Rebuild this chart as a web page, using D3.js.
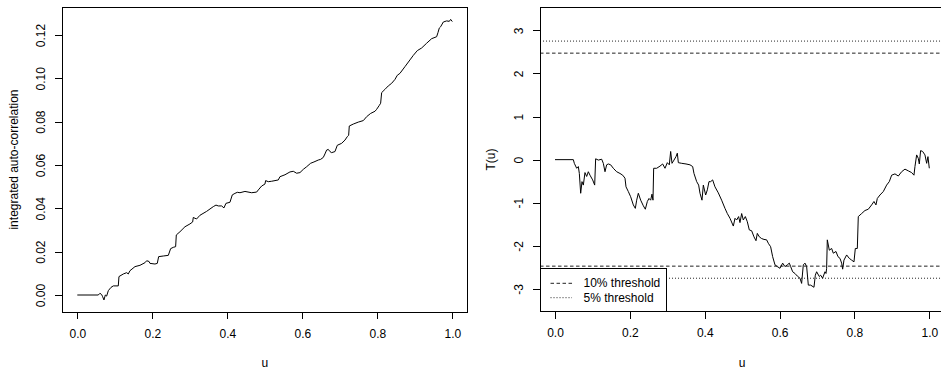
<!DOCTYPE html>
<html><head><meta charset="utf-8">
<script src="https://cdn.jsdelivr.net/npm/d3@7"></script>
<style>
body{margin:0;background:#fff;}
text{font-family:"Liberation Sans",Arial,Helvetica,sans-serif;font-size:12px;fill:#000;}
</style></head>
<body><svg id="c" width="941" height="373"></svg>
<script>
// ---- data ----
const xTicks = [0, 0.2, 0.4, 0.6, 0.8, 1.0];
const leftYTicks = [0, 0.02, 0.04, 0.06, 0.08, 0.10, 0.12];
const rightYTicks = [-3, -2, -1, 0, 1, 2, 3];
const thresholds10 = [2.47, -2.47];
const thresholds5 = [2.75, -2.75];
const legendLabels = ["10% threshold", "5% threshold"];

const acU = [0,0.056,0.0604,0.0649,0.0676,0.0711,0.0747,0.0782,0.0827,0.0898,0.096,0.1093,0.1111,0.1227,0.1316,0.136,0.1404,0.1538,0.1671,0.1804,0.1849,0.1911,0.1938,0.2071,0.2133,0.2169,0.2293,0.2427,0.2489,0.256,0.2622,0.264,0.2738,0.2871,0.3004,0.3076,0.3093,0.3138,0.3182,0.3271,0.3449,0.3627,0.3698,0.376,0.3849,0.3911,0.3964,0.4071,0.4133,0.4204,0.4267,0.4338,0.4471,0.4649,0.4782,0.4827,0.4916,0.5004,0.5022,0.5093,0.5182,0.536,0.5404,0.5538,0.5671,0.576,0.5849,0.5938,0.6027,0.6116,0.6222,0.6311,0.6427,0.6489,0.656,0.6604,0.6649,0.6693,0.6738,0.6782,0.6871,0.6933,0.7049,0.7138,0.72,0.7236,0.7253,0.736,0.7493,0.7627,0.7716,0.7822,0.7938,0.7982,0.8053,0.8089,0.8116,0.8204,0.8293,0.8382,0.8471,0.8533,0.8604,0.8738,0.8871,0.896,0.9067,0.9182,0.9316,0.9449,0.9582,0.9618,0.9653,0.9689,0.976,0.9849,0.992,0.9956,1.0];
const acV = [0,0,0.0008,0.0002,-0.0008,-0.0023,0,-0.0005,0.002,0.0035,0.0042,0.0042,0.0085,0.0097,0.0103,0.0097,0.0112,0.0131,0.0137,0.0149,0.0158,0.0155,0.0146,0.0143,0.0146,0.0177,0.018,0.0183,0.0214,0.022,0.0223,0.0277,0.0292,0.0315,0.0328,0.0337,0.0358,0.0354,0.0351,0.0368,0.0386,0.0408,0.0415,0.0411,0.0411,0.0402,0.0423,0.0428,0.0462,0.0469,0.0474,0.0472,0.0478,0.0472,0.0475,0.0485,0.0503,0.0512,0.0528,0.0523,0.0525,0.0531,0.0546,0.0555,0.0568,0.0571,0.0562,0.0565,0.058,0.0592,0.0608,0.0614,0.0623,0.0626,0.0635,0.0651,0.0669,0.0672,0.0662,0.0657,0.0662,0.0691,0.07,0.0715,0.0731,0.0737,0.078,0.0789,0.0798,0.0805,0.0823,0.0838,0.0848,0.0857,0.0875,0.0885,0.0934,0.0949,0.0965,0.0977,0.0995,0.1014,0.1023,0.1054,0.1085,0.1106,0.1128,0.114,0.1162,0.1183,0.1192,0.1211,0.1232,0.1238,0.126,0.1265,0.1263,0.1272,0.1262];

const tU = [0,0.049,0.0516,0.0579,0.0623,0.065,0.0686,0.0721,0.0757,0.0801,0.0846,0.089,0.0935,0.1006,0.106,0.1086,0.1158,0.1247,0.1291,0.1336,0.138,0.1425,0.1487,0.1558,0.1647,0.1736,0.1808,0.187,0.1897,0.1959,0.2021,0.2093,0.2146,0.2182,0.2226,0.2289,0.236,0.2413,0.2467,0.2511,0.2556,0.2591,0.2618,0.2636,0.2716,0.2805,0.2876,0.2939,0.3001,0.3054,0.309,0.3126,0.3179,0.3232,0.3268,0.3295,0.3384,0.35,0.3606,0.3678,0.3713,0.3785,0.3838,0.3874,0.3927,0.3963,0.4025,0.407,0.4114,0.4159,0.4212,0.4274,0.4363,0.4452,0.4541,0.4604,0.4675,0.4764,0.4809,0.4853,0.4906,0.4942,0.4987,0.5031,0.5085,0.5138,0.5191,0.5254,0.5316,0.537,0.5405,0.5459,0.5521,0.5583,0.5654,0.5699,0.5761,0.5815,0.5877,0.594,0.6011,0.6082,0.6144,0.6207,0.626,0.6296,0.6349,0.6411,0.6474,0.6545,0.6589,0.6634,0.6679,0.6723,0.6768,0.683,0.6919,0.6955,0.699,0.7061,0.7097,0.715,0.7213,0.724,0.7257,0.7275,0.7329,0.7391,0.7435,0.7507,0.756,0.7614,0.7658,0.7685,0.772,0.7792,0.7863,0.7925,0.7988,0.8023,0.8077,0.8103,0.8192,0.8281,0.837,0.8459,0.8522,0.8575,0.8611,0.8682,0.8771,0.886,0.8931,0.8994,0.9083,0.9172,0.9261,0.935,0.9439,0.9528,0.959,0.9617,0.9662,0.9706,0.9733,0.9768,0.9822,0.9884,0.9929,0.9964,1.0];
const tV = [0,0,-0.085,-0.2,-0.16,-0.32,-0.78,-0.51,-0.59,-0.3,-0.39,-0.28,-0.36,-0.47,-0.59,0.02,-0.01,0.01,-0.085,-0.28,-0.12,-0.1,-0.12,-0.2,-0.28,-0.32,-0.36,-0.43,-0.63,-0.74,-0.86,-1.05,-1.13,-0.94,-0.78,-0.94,-1.07,-1.15,-0.97,-0.9,-0.94,-0.8,-0.94,-0.2,-0.2,-0.15,-0.1,-0.2,-0.07,-0.12,0.19,-0.085,-0.01,0.07,0.15,-0.07,-0.085,-0.1,-0.12,-0.16,-0.32,-0.51,-0.59,-0.78,-0.94,-0.59,-0.82,-0.7,-0.51,-0.51,-0.47,-0.63,-0.77,-0.94,-1.13,-1.25,-1.36,-1.54,-1.36,-1.4,-1.32,-1.46,-1.25,-1.4,-1.32,-1.44,-1.63,-1.65,-1.79,-1.88,-1.71,-1.79,-1.83,-1.85,-1.86,-1.94,-2.02,-2.25,-2.44,-2.48,-2.52,-2.4,-2.48,-2.44,-2.4,-2.48,-2.6,-2.64,-2.7,-2.75,-2.87,-2.44,-2.4,-2.48,-2.91,-2.91,-2.96,-2.68,-2.6,-2.71,-2.68,-2.75,-2.6,-2.64,-2.52,-1.86,-2.1,-2.06,-2.17,-2.13,-2.25,-2.29,-2.4,-2.54,-2.33,-2.21,-2.29,-2.33,-2.37,-2.06,-2.06,-1.32,-1.25,-1.18,-1.15,-1.05,-0.97,-1.05,-0.9,-0.82,-0.74,-0.59,-0.51,-0.36,-0.33,-0.38,-0.28,-0.22,-0.26,-0.3,-0.36,-0.16,0.11,0.03,-0.1,0.21,0.19,0.11,-0.085,0.07,-0.2];

// ---- drawing ----
const svg = d3.select("#c");
svg.append("rect").attr("width",941).attr("height",373).attr("fill","#fff");

function panel(opt){
  const g = svg.append("g");
  const x = d3.scaleLinear().domain([0,1]).range(opt.xr);
  const y = d3.scaleLinear().domain(opt.yd).range(opt.yr);
  const bx0 = x(-0.04), bx1 = x(1.04);
  const by0 = opt.boxTop, by1 = opt.boxBottom;
  const clipId = "clip"+opt.id;
  svg.append("clipPath").attr("id",clipId).append("rect")
    .attr("x",bx0).attr("y",by0).attr("width",bx1-bx0).attr("height",by1-by0);

  // axes
  const ax = g.append("g").attr("transform",`translate(0,${by1})`)
    .call(d3.axisBottom(x).tickValues(xTicks).tickSize(7).tickPadding(10).tickFormat(d3.format(".1f")));
  ax.select(".domain").remove();
  ax.selectAll("text").style("font-size","12px");
  const ay = g.append("g").attr("transform",`translate(${bx0},0)`)
    .call(d3.axisLeft(y).tickValues(opt.yTicks).tickSize(7).tickFormat(opt.yFmt));
  ay.select(".domain").remove();
  ay.selectAll("text").attr("x",null).attr("dy",null)
    .attr("transform","translate(-21,0) rotate(-90)")
    .attr("text-anchor","middle").attr("dominant-baseline","central")
    .style("font-size","12px");
  g.selectAll(".tick line").attr("shape-rendering","crispEdges");

  const inner = g.append("g").attr("clip-path",`url(#${clipId})`);
  (opt.hlines||[]).forEach(h=>{
    inner.append("line").attr("x1",bx0).attr("x2",bx1).attr("y1",y(h.v)).attr("y2",y(h.v))
      .attr("stroke","#222").attr("stroke-width",1).attr("stroke-dasharray",h.dash);
  });
  const line = d3.line().x(d=>x(d[0])).y(d=>y(d[1]));
  inner.append("path").datum(opt.u.map((u,i)=>[u,opt.v[i]]))
    .attr("d",line).attr("fill","none").attr("stroke","#000").attr("stroke-width",1)
    .attr("stroke-linejoin","round");

  if(opt.legend){
    const lg = g.append("g");
    lg.append("rect").attr("x",bx0).attr("y",268.3).attr("width",126.7).attr("height",by1-268.3)
      .attr("fill","#fff").attr("stroke","#000").attr("shape-rendering","crispEdges");
    const dashes = ["3.5,2.5","1,2"];
    legendLabels.forEach((t,i)=>{
      const yy = 283.3 + i*14.4;
      lg.append("line").attr("x1",bx0+10.5).attr("x2",bx0+32).attr("y1",yy).attr("y2",yy)
        .attr("stroke","#222").attr("stroke-dasharray",dashes[i]);
      lg.append("text").attr("x",bx0+43.5).attr("y",yy).attr("dominant-baseline","central").text(t);
    });
  }

  g.append("rect").attr("x",bx0).attr("y",by0).attr("width",bx1-bx0).attr("height",by1-by0)
    .attr("fill","none").attr("stroke","#000").attr("stroke-width",1).attr("shape-rendering","crispEdges");

  g.append("text").attr("x",(bx0+bx1)/2).attr("y",363).attr("text-anchor","middle")
    .attr("dominant-baseline","central").text("u");
  g.append("text").attr("transform",`translate(${opt.ylabX},${(by0+by1)/2}) rotate(-90)`)
    .attr("text-anchor","middle").attr("dominant-baseline","central").text(opt.ylab);
}

panel({id:"L", xr:[77.3,452.3], yd:[0,0.12], yr:[295,35], boxTop:7, boxBottom:312,
  yTicks:leftYTicks, yFmt:d3.format(".2f"), u:acU, v:acV,
  ylab:"integrated auto-correlation", ylabX:13.5});

panel({id:"R", xr:[555,929.3], yd:[-3,3], yr:[289,30.3], boxTop:7.3, boxBottom:311.7,
  yTicks:rightYTicks, yFmt:d=>String(d), u:tU, v:tV,
  ylab:"T(u)", ylabX:490.7,
  hlines:[{v:thresholds10[0],dash:"3.5,2.5"},{v:thresholds10[1],dash:"3.5,2.5"},
          {v:thresholds5[0],dash:"1,2"},{v:thresholds5[1],dash:"1,2"}],
  legend:true});
</script></body></html>
